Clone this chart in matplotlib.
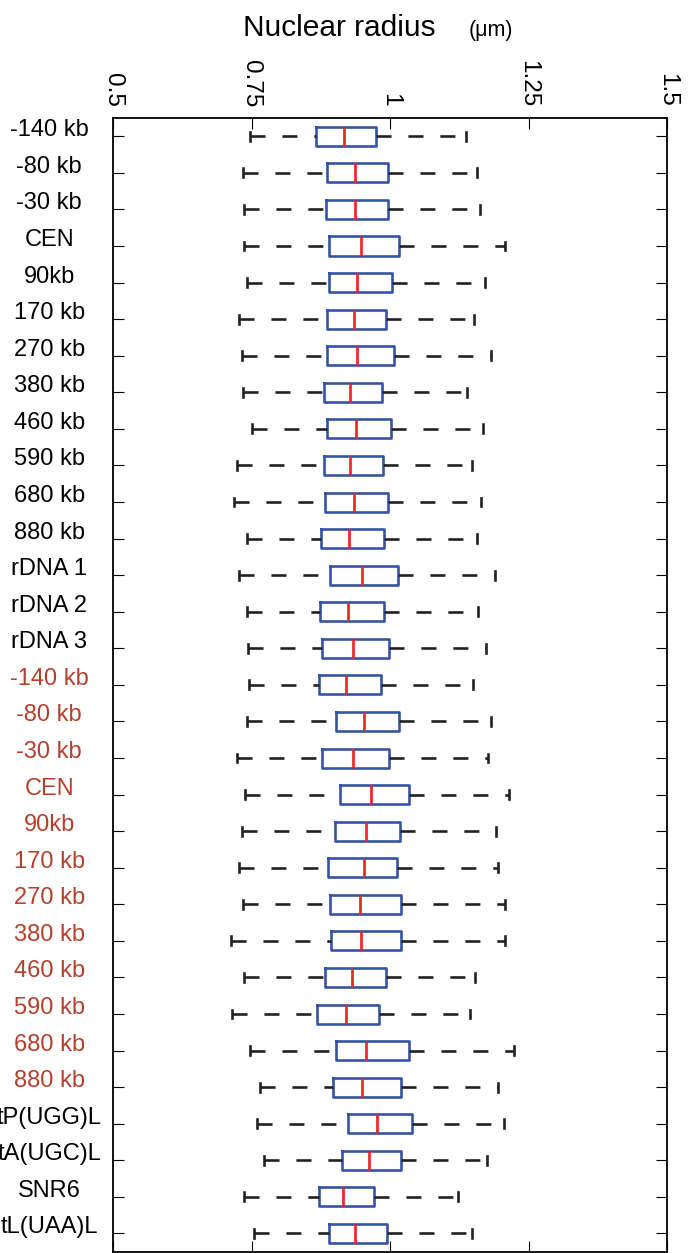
import matplotlib as mpl
mpl.use('Agg')
import matplotlib.pyplot as plt

plt.rcParams['font.family'] = ['Liberation Sans', 'DejaVu Sans']

labels = ['-140 kb', '-80 kb', '-30 kb', 'CEN', '90kb', '170 kb', '270 kb',
          '380 kb', '460 kb', '590 kb', '680 kb', '880 kb', 'rDNA 1', 'rDNA 2',
          'rDNA 3',
          '-140 kb', '-80 kb', '-30 kb', 'CEN', '90kb', '170 kb', '270 kb',
          '380 kb', '460 kb', '590 kb', '680 kb', '880 kb',
          'tP(UGG)L', 'tA(UGC)L', 'SNR6', 'tL(UAA)L']
# 'k' = first strain, 'r' = second strain
label_group = ['k'] * 15 + ['r'] * 12 + ['k'] * 4

whislo = [0.747, 0.735, 0.736, 0.736, 0.741, 0.728, 0.733, 0.735, 0.751, 0.724,
          0.718, 0.741, 0.727, 0.742, 0.744, 0.746, 0.741, 0.724, 0.739, 0.732,
          0.727, 0.735, 0.713, 0.736, 0.714, 0.748, 0.765, 0.760, 0.772, 0.736,
          0.754]
q1 = [0.866, 0.887, 0.884, 0.890, 0.890, 0.886, 0.887, 0.880, 0.887, 0.880,
      0.883, 0.876, 0.892, 0.873, 0.877, 0.871, 0.902, 0.877, 0.910, 0.900,
      0.888, 0.892, 0.894, 0.882, 0.869, 0.903, 0.898, 0.925, 0.914, 0.871,
      0.889]
med = [0.917, 0.936, 0.936, 0.947, 0.941, 0.935, 0.941, 0.928, 0.938, 0.927,
       0.935, 0.926, 0.950, 0.924, 0.934, 0.921, 0.953, 0.934, 0.966, 0.956,
       0.953, 0.945, 0.948, 0.931, 0.920, 0.957, 0.950, 0.976, 0.962, 0.916,
       0.937]
q3 = [0.975, 0.996, 0.996, 1.017, 1.004, 0.993, 1.007, 0.985, 1.001, 0.988,
      0.996, 0.989, 1.014, 0.990, 0.998, 0.984, 1.016, 0.999, 1.034, 1.018,
      1.013, 1.019, 1.020, 0.992, 0.980, 1.034, 1.020, 1.039, 1.019, 0.972,
      0.995]
whishi = [1.138, 1.157, 1.163, 1.208, 1.172, 1.151, 1.183, 1.139, 1.168, 1.148,
          1.164, 1.157, 1.189, 1.159, 1.174, 1.150, 1.183, 1.177, 1.215, 1.191,
          1.195, 1.207, 1.208, 1.153, 1.144, 1.224, 1.195, 1.205, 1.175, 1.122,
          1.148]

xticks = [0.5, 0.75, 1.0, 1.25, 1.5]
xticklabels = ['0.5', '0.75', '1', '1.25', '1.5']

box_blue = '#3553a5'
med_red = '#ee2a2a'
label_red = '#b5402b'

fig = plt.figure(figsize=(7, 12.53), dpi=100)
ax = fig.add_axes([113 / 700, 0.001, 554 / 700, 1 - 118 / 1253 - 0.001])

stats = []
for i in range(len(labels)):
    stats.append(dict(med=med[i], q1=q1[i], q3=q3[i], whislo=whislo[i],
                      whishi=whishi[i], fliers=[]))

pos = list(range(1, len(labels) + 1))
res = ax.bxp(stats, positions=pos, widths=0.52, orientation='horizontal',
             showfliers=False,
             boxprops=dict(color=box_blue, linewidth=1.9),
             medianprops=dict(color=med_red, linewidth=2.0),
             whiskerprops=dict(color='#222222', linewidth=1.9,
                               linestyle=(0, (5.7, 6.4))),
             capprops=dict(color='#222222', linewidth=1.9),
             capwidths=0.24)

# lower whiskers go from the cap towards the box, like the original
for w in res['whiskers'][0::2]:
    x, y = w.get_data()
    w.set_data(x[::-1], y[::-1])

ax.set_xlim(0.5, 1.5)
ax.set_ylim(len(labels) + 0.5, 0.5)

ax.set_xticks(xticks)
ax.set_xticklabels(xticklabels, rotation=-90, fontsize=17.5)
ax.xaxis.set_ticks_position('both')
ax.tick_params(axis='x', which='both', labeltop=True, labelbottom=False,
               direction='in', length=8, width=0.8, pad=8)

ax.set_yticks(pos)
ax.set_yticklabels(labels, fontsize=17)
ax.yaxis.set_ticks_position('both')
ax.tick_params(axis='y', direction='in', length=8, width=0.8, pad=46)
for t, g in zip(ax.get_yticklabels(), label_group):
    t.set_horizontalalignment('center')
    t.set_verticalalignment('baseline')
    if g == 'r':
        t.set_color(label_red)

for s in ax.spines.values():
    s.set_linewidth(1.3)

fig.text(339 / 700, 1 - 36 / 1253, 'Nuclear radius', fontsize=21.5,
         ha='center', va='baseline')
fig.text(491 / 700, 1 - 36 / 1253, '(\u03bcm)', fontsize=15.5,
         ha='center', va='baseline')

fig.savefig('out.png', dpi=100)
